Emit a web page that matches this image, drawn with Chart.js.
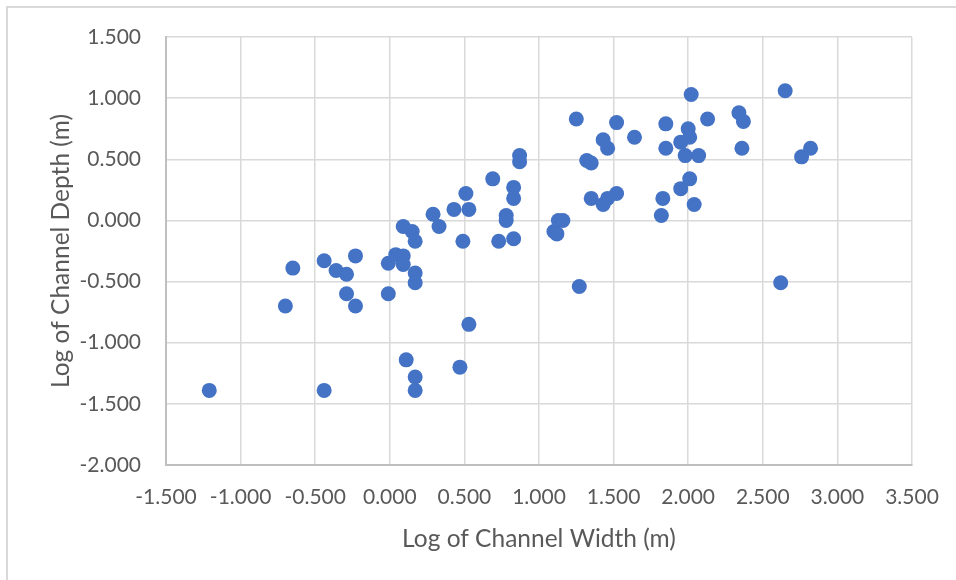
<!DOCTYPE html>
<html>
<head>
<meta charset="utf-8">
<script src="https://cdn.jsdelivr.net/npm/chart.js@4/dist/chart.umd.min.js"></script>
<style>
  html, body { margin: 0; padding: 0; background: #ffffff; overflow: hidden; }
  #wrap { position: relative; width: 956px; height: 580px; overflow: hidden; }
  #frame { position: absolute; left: 6px; top: 6px; width: 2000px; height: 2000px;
           border: 2px solid #d9d9d9; box-sizing: border-box; }
  #chart { position: absolute; left: 0; top: 0; }
</style>
</head>
<body>
<div id="wrap">
  <div id="frame"></div>
  <canvas id="chart" width="956" height="580"></canvas>
</div>
<script>
// Log10 of measured channel width and depth (m), one entry per channel
const widthLog = [
  -1.21, -0.70, -0.65, -0.44, -0.44, -0.36, -0.29, -0.29, -0.23, -0.23,
  -0.01, -0.01, 0.04, 0.09, 0.09, 0.09, 0.15, 0.17, 0.17, 0.17,
  0.11, 0.17, 0.17, 0.29, 0.33, 0.43, 0.51, 0.53, 0.49, 0.53,
  0.47, 0.69, 0.73, 0.78, 0.78, 0.83, 0.83, 0.83, 0.87, 0.87,
  1.10, 1.12, 1.13, 1.16, 1.25, 1.27, 1.32, 1.35, 1.35, 1.43,
  1.46, 1.43, 1.46, 1.52, 1.52, 1.64, 1.82, 1.83, 1.85, 1.85,
  1.95, 1.95, 1.98, 2.00, 2.01, 2.01, 2.02, 2.04, 2.07, 2.13,
  2.34, 2.37, 2.36, 2.62, 2.65, 2.76, 2.82
];
const depthLog = [
  -1.39, -0.70, -0.39, -0.33, -1.39, -0.41, -0.44, -0.60, -0.29, -0.70,
  -0.35, -0.60, -0.28, -0.29, -0.36, -0.05, -0.09, -0.17, -0.43, -0.51,
  -1.14, -1.28, -1.39, 0.05, -0.05, 0.09, 0.22, 0.09, -0.17, -0.85,
  -1.20, 0.34, -0.17, 0.04, 0.00, 0.27, 0.18, -0.15, 0.53, 0.48,
  -0.09, -0.11, 0.00, 0.00, 0.83, -0.54, 0.49, 0.47, 0.18, 0.66,
  0.59, 0.13, 0.18, 0.80, 0.22, 0.68, 0.04, 0.18, 0.79, 0.59,
  0.26, 0.64, 0.53, 0.75, 0.68, 0.34, 1.03, 0.13, 0.53, 0.83,
  0.88, 0.81, 0.59, -0.51, 1.06, 0.52, 0.59
];

// Axis extents and tick spacing
const xRange = [-1.5, 3.5];
const yRange = [-2.0, 1.5];
const tickStep = 0.5;

const xTitle = 'Log of Channel Width (m)';
const yTitle = 'Log of Channel Depth (m)';

const points = widthLog.map((x, i) => ({ x: x, y: depthLog[i] }));

const textColor = '#595959';
const fam = 'Lato, "Open Sans", sans-serif';

new Chart(document.getElementById('chart'), {
  type: 'scatter',
  data: {
    datasets: [{
      data: points,
      backgroundColor: '#4472C4',
      borderWidth: 0,
      pointRadius: 7.5,
      pointHoverRadius: 7.5
    }]
  },
  options: {
    responsive: false,
    animation: false,
    events: [],
    layout: { padding: { top: 37, right: 44, bottom: 0, left: 0 } },
    plugins: { legend: { display: false }, tooltip: { enabled: false } },
    scales: {
      x: {
        type: 'linear',
        min: xRange[0], max: xRange[1],
        // fixed band height; edge labels fit inside the outer padding
        afterFit: s => { s.height = 115; s.paddingLeft = 0; s.paddingRight = 0; },
        ticks: {
          stepSize: tickStep,
          color: textColor,
          font: { family: fam, size: 21 },
          padding: 20,
          maxRotation: 0,
          callback: v => Number(v).toFixed(3)
        },
        grid: { color: '#d9d9d9', lineWidth: 1.5, drawTicks: false },
        border: { color: '#bfbfbf', width: 2 },
        title: {
          display: true, text: xTitle, color: textColor,
          font: { family: fam, size: 24.5 },
          padding: { top: 0, bottom: 26 }
        }
      },
      y: {
        type: 'linear',
        min: yRange[0], max: yRange[1],
        afterFit: s => { s.width = 166; s.paddingTop = 0; s.paddingBottom = 0; },
        ticks: {
          stepSize: tickStep,
          color: textColor,
          font: { family: fam, size: 21 },
          padding: 25,
          callback: v => Number(v).toFixed(3)
        },
        grid: { color: '#d9d9d9', lineWidth: 1.5, drawTicks: false },
        border: { color: '#bfbfbf', width: 2 },
        title: {
          display: true, text: yTitle, color: textColor,
          font: { family: fam, size: 24.5 },
          padding: { top: 46, bottom: 0 }
        }
      }
    }
  }
});
</script>
</body>
</html>
